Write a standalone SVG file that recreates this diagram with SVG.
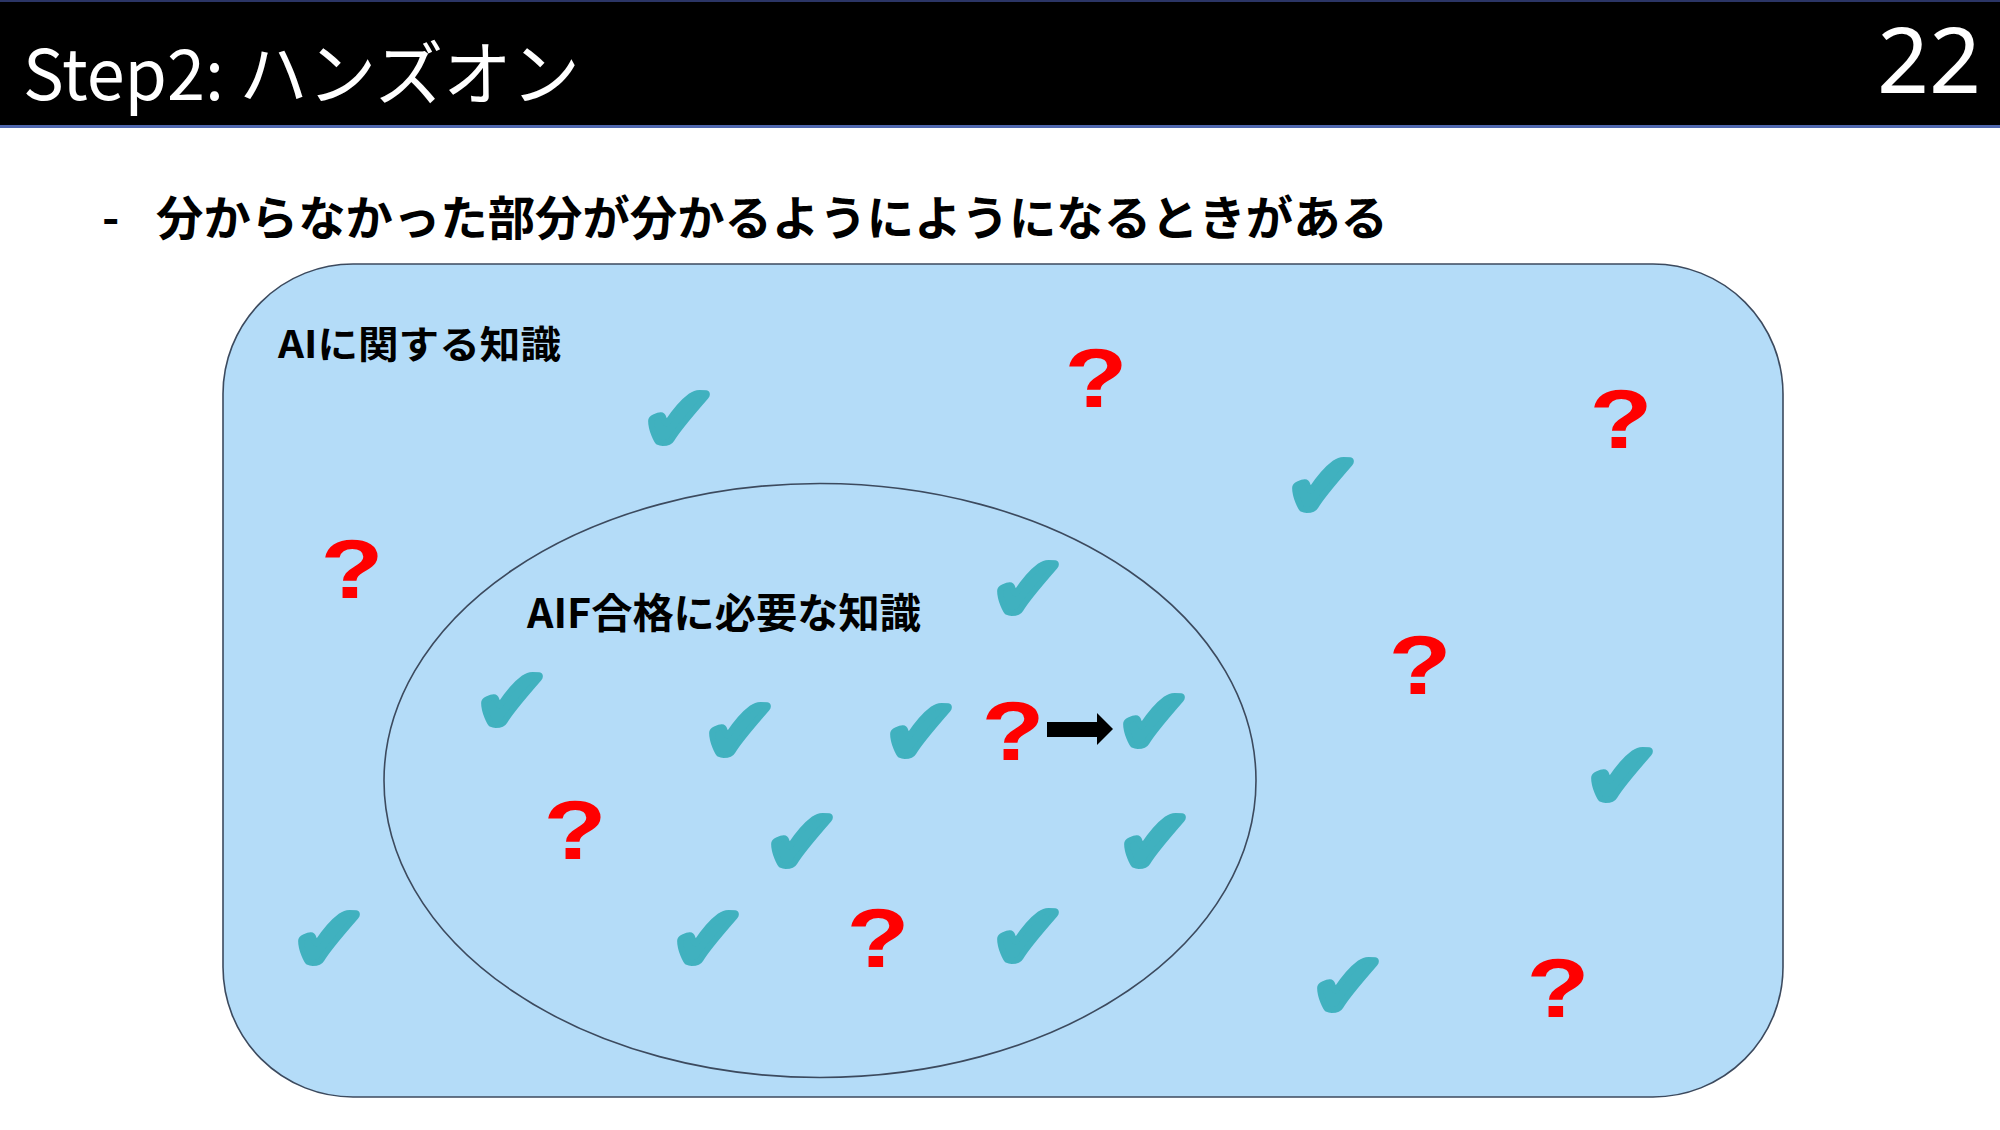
<svg xmlns="http://www.w3.org/2000/svg" width="2000" height="1130" viewBox="0 0 2000 1130">
<style>
.bg{fill:#ffffff}
.cjk{font-family:"Noto Sans CJK JP","Noto Sans",sans-serif}
.title{fill:#ffffff;font-size:70px;font-weight:400}
.pg{fill:#ffffff;font-family:"Noto Sans","Open Sans",sans-serif;font-size:91px}
.bullet{fill:#000;font-size:47px;font-weight:700}
.lbl{fill:#000;font-weight:700}
.area{fill:#B4DCF8;stroke:#3C4A5E;stroke-width:1.6}
.ck{fill:#40B1BF;stroke:#40B1BF;stroke-width:6;stroke-linejoin:round;font-family:"DejaVu Sans",sans-serif;font-size:92px;text-anchor:middle}
.q{fill:#FF0000;font-family:"Liberation Sans",Arial,sans-serif;font-weight:700;font-size:84px;text-anchor:middle}
</style>
<rect class="bg" x="0" y="0" width="2000" height="1130"/>
<g id="header">
<rect x="0" y="0" width="2000" height="127" fill="#000"/>
<rect x="0" y="0" width="2000" height="2" fill="#2B3566"/>
<rect x="0" y="125" width="2000" height="3" fill="#4F67AE"/>
<text class="cjk title" x="23" y="100" textLength="557" lengthAdjust="spacingAndGlyphs">Step2: ハンズオン</text>
<text class="pg" x="1981" y="93" text-anchor="end">22</text>
</g>
<g id="bullet">
<text class="cjk bullet" x="102" y="235">-</text>
<text class="cjk bullet" x="156" y="235" textLength="1232" lengthAdjust="spacingAndGlyphs">分からなかった部分が分かるようにようになるときがある</text>
</g>
<g id="ai-knowledge">
<rect class="area" x="223" y="264" width="1560" height="833" rx="130" ry="130"/>
<text class="cjk lbl" x="278" y="358" font-size="38" textLength="283" lengthAdjust="spacingAndGlyphs">AIに関する知識</text>
</g>
<g id="aif-knowledge">
<ellipse class="area" cx="820" cy="780.5" rx="436" ry="297"/>
<text class="cjk lbl" x="527" y="628" font-size="41" textLength="394" lengthAdjust="spacingAndGlyphs">AIF合格に必要な知識</text>
</g>
<g id="checks">
<text class="ck" x="679" y="451">✔</text>
<text class="ck" x="1323" y="518">✔</text>
<text class="ck" x="1028" y="621">✔</text>
<text class="ck" x="512" y="733">✔</text>
<text class="ck" x="740" y="763">✔</text>
<text class="ck" x="921" y="764">✔</text>
<text class="ck" x="1154" y="754">✔</text>
<text class="ck" x="1622" y="808">✔</text>
<text class="ck" x="802" y="874">✔</text>
<text class="ck" x="1155" y="874">✔</text>
<text class="ck" x="329" y="971">✔</text>
<text class="ck" x="708" y="971">✔</text>
<text class="ck" x="1028" y="969">✔</text>
<text class="ck" x="1348" y="1018">✔</text>
</g>
<g id="questions">
<text class="q" x="1096" y="407" textLength="63" lengthAdjust="spacingAndGlyphs">?</text>
<text class="q" x="1621" y="448" textLength="63" lengthAdjust="spacingAndGlyphs">?</text>
<text class="q" x="352" y="598" textLength="63" lengthAdjust="spacingAndGlyphs">?</text>
<text class="q" x="1420" y="694" textLength="63" lengthAdjust="spacingAndGlyphs">?</text>
<text class="q" x="1013" y="760" textLength="63" lengthAdjust="spacingAndGlyphs">?</text>
<text class="q" x="575" y="859" textLength="63" lengthAdjust="spacingAndGlyphs">?</text>
<text class="q" x="878" y="967" textLength="63" lengthAdjust="spacingAndGlyphs">?</text>
<text class="q" x="1558" y="1017" textLength="63" lengthAdjust="spacingAndGlyphs">?</text>
</g>
<g id="connectors">
<polygon points="1047,722 1097,722 1097,713 1113,729 1097,745 1097,737 1047,737" fill="#000"/>
</g>
</svg>
